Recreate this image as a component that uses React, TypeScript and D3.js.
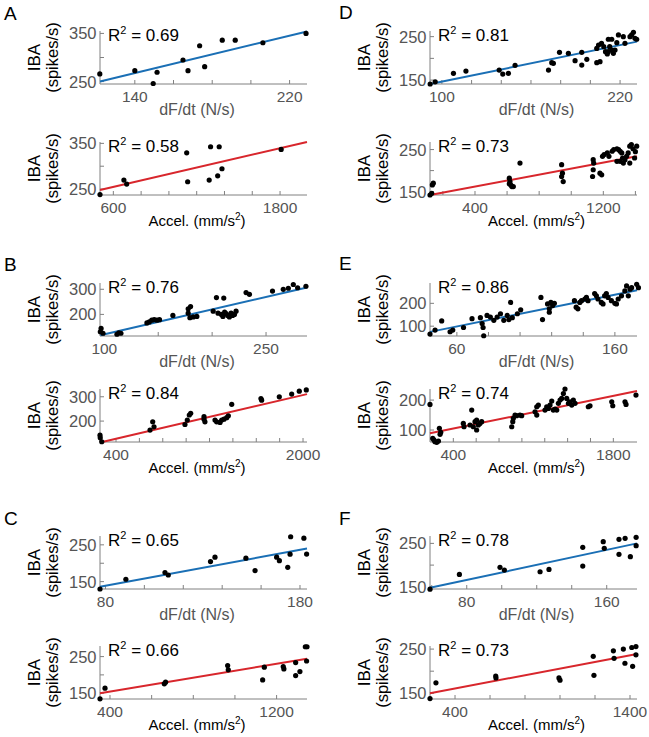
import React from 'react';
import * as d3 from 'd3';

// ---------- DATA ----------
const ptsA1: [number, number][] = [[121.9,265.9],[140,272.7],[149.5,246],[151.5,269.4],[164.9,294.8],[167.5,272.7],[173.5,324.4],[176.1,281],[185.2,336],[191.9,336],[206.2,330.6],[228.5,350]];
const ptsA2: [number, number][] = [[504,238],[676,269.7],[696,261],[1128,329.4],[1135,266],[1290,269.7],[1300,342.6],[1351,279],[1362,342.6],[1382,294.4],[1808,336.8]];
const ptsB1: [number, number][] = [[96.3,131],[97,144],[98.8,125],[111.7,121],[113.5,127],[115.4,125],[139.5,166],[141.7,170],[144,177],[146.3,179],[148.8,177],[151.2,179],[163.6,196],[177.8,222],[180,231],[177.8,205],[179.4,187],[182.5,190],[185.8,192],[201,213],[204,267],[205.5,205],[208.6,200],[210,192],[210.8,265],[211.6,209],[213,203],[214.5,196],[216,190],[217.6,205],[219,196],[220.7,200],[222.2,213],[231.5,287],[234.6,280],[256,293],[266,300],[270.7,304],[275.3,319],[279.3,306],[287,312]];
const ptsB2: [number, number][] = [[263,142],[265,131],[278,115],[691,163],[714,197],[725,176.5],[990,186],[1010,204],[1027,225],[1039,232],[1153,208],[1161,197],[1153,218],[1247,204],[1261,197],[1290,194.5],[1304,204],[1324,208],[1347,214],[1361,222],[1390,269],[1640,293],[1646,286],[1797,300],[1903,311],[1968,323],[2028,328]];
const ptsC1: [number, number][] = [[77.2,130],[90.5,156.5],[110.6,174.5],[112.3,168],[134,204.5],[136.3,216.5],[152.2,213.8],[156.9,180],[168,216.5],[169.4,207],[173.7,189],[175.2,272],[174.9,224.6],[182,268],[183.4,225]];
const ptsC2: [number, number][] = [[352,134.4],[376,163.7],[660.7,175.4],[667,180],[965,225.4],[968,213.7],[1133,186.3],[1141,221],[1232,222.7],[1235,216.4],[1291.5,233.6],[1291.5,198],[1312,209],[1338,277],[1346,277],[1344,238]];
const ptsD1: [number, number][] = [[92.1,141],[95.5,146],[107.8,165.5],[116.2,170.8],[138.6,173],[141,163.9],[144.8,165.5],[149.3,183.9],[171.8,173],[174,190],[175.1,188.5],[179.2,214],[185.2,211.6],[189.7,194.6],[194.2,214],[194.2,184.6],[197.6,197.8],[204.3,190],[206.5,192.3],[204.3,223],[205.5,230.8],[207.5,234.7],[209,226.9],[210.2,215.4],[211.4,210],[212.1,215.4],[213,226.9],[214.4,219.3],[215.5,211.6],[216.6,219.3],[212.1,244],[214.4,244],[217.8,236.1],[218.9,253.9],[222.2,250],[223.3,234.7],[226.7,250],[227.8,254],[229,260],[230,246.2],[231.2,244]];
const ptsD2: [number, number][] = [[119.5,142],[130,146],[134,166],[140,170],[614,182],[618,174],[623,166],[630,162],[639,162],[614,168.5],[680.5,218],[940,214],[945,194],[950,174],[940,186],[1137,226],[1140,218],[1137,202],[1133,186],[1179,194],[1190,190],[1195,234],[1205,238],[1225,242],[1235,234],[1255,246],[1265,250],[1285,252],[1295,250],[1305,246],[1315,242],[1320,230],[1335,226],[1345,234],[1355,242],[1365,258],[1375,262],[1385,252],[1408,258],[1365,218],[1325,218],[1305,222],[1285,222],[1400,245],[1395,230]];
const ptsE1: [number, number][] = [[43,65.6],[46.2,82.8],[50.4,122.9],[55.7,75.5],[57.4,82.8],[64.2,94.3],[69.6,133],[74.9,137],[76,111.5],[76.6,94.3],[77,58],[79.1,147],[81.2,140],[83.4,125.8],[85.5,140],[87.6,154.5],[89.7,125.8],[91.9,147],[92.9,128.8],[94,204],[95.1,137],[98.3,154.5],[100.4,171.7],[113.2,225.8],[114.2,128.8],[117.4,197.4],[118.5,176],[119.5,204],[120.6,190],[121.7,200],[118.5,161],[134.4,211.6],[135.5,183],[136.6,176],[137.8,204],[138.9,211.6],[141,219],[142,225.8],[143,211.6],[147.2,243],[148.3,233],[149.3,219],[151.4,204],[152.5,197.4],[153.5,233],[154.6,243],[155.7,225.8],[157.8,211.6],[160,200],[161,197.4],[162.1,219],[164.2,233],[166.3,254.5],[167.4,276],[168.5,233],[169.6,261.8],[170.6,268.7],[173.8,283],[174.9,268.7]];
const ptsE2: [number, number][] = [[196,185.6],[220,72],[230,67],[240,61],[255,59],[270,63],[284,85.6],[278,105.6],[290,92.3],[487.5,122],[493.6,111],[561,166.7],[546,116.7],[575,111],[590,127.8],[604,133.3],[619,116.7],[633,122],[648,127.8],[604,100],[911,111],[920,127.8],[925,139],[940,150],[954,147.8],[983,150],[998,147.8],[1115,161],[1130,177.7],[1144,183.3],[1130,150],[1202,166.7],[1217,177.7],[1232,172],[1246,183.3],[1261,196.7],[1275,166.7],[1290,170],[1305,166.7],[1319,189],[1334,200],[1348,205.6],[1363,222],[1377,236.7],[1392,205.6],[1407,189],[1421,194.4],[1436,183.3],[1450,200],[1465,189],[1581,177.7],[1596,181],[1786,194.4],[1795,181],[1902,194.4],[1911,185.6],[1998,216.7]];
const ptsF1: [number, number][] = [[59,144.7],[75.8,178.6],[99,194.8],[101.5,188.5],[121.9,184.7],[127,190],[146.3,241],[146.3,197.8],[158,253.9],[158.6,238.6],[167,259.4],[167,224.8],[170.5,261.7],[173.5,219.3],[176.8,264],[176.8,244.7]];
const ptsF2: [number, number][] = [[257,138],[291,173.6],[632.6,189],[634,184.7],[994,184.7],[1000,179.6],[1190,233.6],[1194,190.6],[1305,246],[1309,229],[1362,250],[1371,218],[1410,253.6],[1415,211],[1434,255.8],[1434,237]];

// regression line end points [x, y]
const fits: [number, number][][] = [
  [[122,250],[229,354]], [[504,248],[1994,353]],
  [[96.3,117],[288,307]], [[263,112],[2034,311]],
  [[77.2,136.4],[183.6,240]], [[352,150],[1346,244]],
  [[92.1,141],[231.4,238.5]], [[119.5,142],[1410,234]],
  [[43,75],[174,257]], [[196,89],[2007,230]],
  [[59,147.7],[177.3,250]], [[257,150],[1440,239]],
];
const r2Labels = ['0.69','0.58','0.76','0.84','0.65','0.66','0.81','0.73','0.86','0.74','0.78','0.73'];
const xDomains: [number, number][] = [[122,229],[504,1994],[96,288],[263,2034],[77.2,183.6],[352,1346],[92,231.4],[119.5,1410],[43,174],[196,2007],[59,177.3],[257,1440]];
const yDomains: [number, number][] = [[245,355],[237,353],[114,325],[114,332],[130,274],[134,279],[141,263],[142,268],[57,289],[60,237],[145,267],[137,257]];
const xTickVals: number[][] = [
  [140,160,180,200,220], [600,800,1000,1200,1400,1600,1800],
  [100,150,200,250], [400,600,800,1000,1200,1400,1600,1800,2000],
  [80,100,120,140,160,180], [400,600,800,1000,1200],
  [100,120,140,160,180,200,220], [200,400,600,800,1000,1200,1400],
  [60,80,100,120,140,160], [400,600,800,1000,1200,1400,1600,1800],
  [60,80,100,120,140,160], [400,600,800,1000,1200,1400],
];
const xTickLabels: number[][] = [[140,220],[600,1800],[100,250],[400,2000],[80,180],[400,1200],[100,220],[400,1200],[60,160],[400,1800],[80,160],[400,1400]];
const yTickVals: number[][] = [[250,300,350],[250,300,350],[200,300],[200,300],[150,200,250],[150,200,250],[150,200,250],[150,200,250],[100,200],[100,200],[150,200,250],[150,200,250]];
const yTickLabels: number[][] = [[250,350],[250,350],[200,300],[200,300],[150,250],[150,250],[150,250],[150,250],[100,200],[100,200],[150,250],[150,250]];
const allPoints = [ptsA1, ptsA2, ptsB1, ptsB2, ptsC1, ptsC2, ptsD1, ptsD2, ptsE1, ptsE2, ptsF1, ptsF2];
const panelLetters = ['A','B','C','D','E','F'];

// ---------- LAYOUT ----------
const W = 649, H = 737;
const colX0 = [100, 430];
const plotW = 207;
const titleCX = [197, 536.5];
const rowBottoms = [84, 195, 336, 442, 589, 699];
const plotH = 53;
const FONT = 'Liberation Sans, Arial, Helvetica, sans-serif';
const BLUE = '#1a6fb5';
const RED = '#d8262c';
const AXIS = '#808080';
const TICKTXT = '#555555';

function Panel({ idx }: { idx: number }) {
  const group = Math.floor(idx / 2);
  const col = group < 3 ? 0 : 1;
  const row = (group % 3) * 2 + (idx % 2);
  const isAccel = idx % 2 === 1;
  const x0 = colX0[col], x1 = x0 + plotW;
  const yb = rowBottoms[row], yt = yb - plotH;
  const xs = d3.scaleLinear().domain(xDomains[idx]).range([x0, x1]);
  const ys = d3.scaleLinear().domain(yDomains[idx]).range([yb, yt]);
  const fit = fits[idx];
  const line = d3.line<[number, number]>().x(d => xs(d[0])).y(d => ys(d[1]))(fit) || '';
  const color = isAccel ? RED : BLUE;
  return (
    <g>
      <line x1={x0} x2={x0} y1={yt} y2={yb} stroke={AXIS} strokeWidth={1} />
      <line x1={x0} x2={x1} y1={yb} y2={yb} stroke={AXIS} strokeWidth={1} />
      {xTickVals[idx].map(v => (
        <line key={'xt' + v} x1={xs(v)} x2={xs(v)} y1={yb} y2={yb - 4} stroke={AXIS} strokeWidth={1} />
      ))}
      {yTickVals[idx].map(v => (
        <line key={'yt' + v} x1={x0} x2={x0 + 4} y1={ys(v)} y2={ys(v)} stroke={AXIS} strokeWidth={1} />
      ))}
      {xTickLabels[idx].map(v => (
        <text key={'xl' + v} x={xs(v)} y={yb + 18} textAnchor="middle" fontSize={15.5} fill={TICKTXT} fontFamily={FONT}>{v}</text>
      ))}
      {yTickLabels[idx].map(v => (
        <text key={'yl' + v} x={x0 - 3.5} y={ys(v)} dy="0.36em" textAnchor="end" fontSize={16.5} fill={TICKTXT} fontFamily={FONT}>{v}</text>
      ))}
      <path d={line} fill="none" stroke={color} strokeWidth={2} />
      {allPoints[idx].map((p, i) => (
        <circle key={i} cx={xs(p[0])} cy={ys(p[1])} r={2.6} fill="#000" />
      ))}
      <text x={x0 + 8} y={yt + 10} fontSize={17} fill="#000" fontFamily={FONT}>
        R<tspan fontSize={11} dy={-7}>2</tspan><tspan dy={7}>{' = ' + r2Labels[idx]}</tspan>
      </text>
      {isAccel ? (
        <text x={titleCX[col]} y={yb + 31} textAnchor="middle" fontSize={15} fill="#000" fontFamily={FONT}>
          Accel. (mm/s<tspan fontSize={10} dy={-6.5}>2</tspan><tspan dy={6.5}>)</tspan>
        </text>
      ) : (
        <text x={titleCX[col]} y={yb + 31} textAnchor="middle" fontSize={16} fill={TICKTXT} fontFamily={FONT}>dF/dt (N/s)</text>
      )}
      <text transform={`translate(${x0 - 60},${(yt + yb) / 2}) rotate(-90)`} textAnchor="middle" fontSize={17} fill="#000" fontFamily={FONT}>IBA</text>
      <text transform={`translate(${x0 - 42},${(yt + yb) / 2}) rotate(-90)`} textAnchor="middle" fontSize={16.5} fill="#000" fontFamily={FONT}>(spikes/s)</text>
    </g>
  );
}

const letterPos: [number, number][] = [[4, 20], [4, 271], [4, 525], [339, 19], [339, 270], [339, 525]];

export default function App() {
  return (
    <svg width={W} height={H} style={{ position: 'absolute', left: 0, top: 0, background: '#fff' }}>
      <rect x={0} y={0} width={W} height={H} fill="#fff" />
      {allPoints.map((_, i) => <Panel key={i} idx={i} />)}
      {panelLetters.map((l, i) => (
        <text key={l} x={letterPos[i][0]} y={letterPos[i][1]} fontSize={19} fill="#000" fontFamily={FONT}>{l}</text>
      ))}
    </svg>
  );
}
